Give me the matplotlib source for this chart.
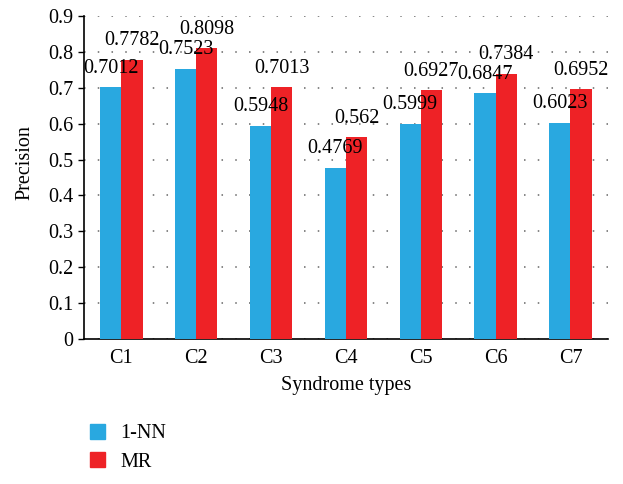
import matplotlib.pyplot as plt
from matplotlib.patches import Patch

plt.rcParams['font.family'] = ['Liberation Serif', 'DejaVu Serif']

# Data
categories = ['C1', 'C2', 'C3', 'C4', 'C5', 'C6', 'C7']
nn_values = [0.7012, 0.7523, 0.5948, 0.4769, 0.5999, 0.6847, 0.6023]
mr_values = [0.7782, 0.8098, 0.7013, 0.562, 0.6927, 0.7384, 0.6952]
nn_labels = ['0.7012', '0.7523', '0.5948', '0.4769', '0.5999', '0.6847', '0.6023']
mr_labels = ['0.7782', '0.8098', '0.7013', '0.562', '0.6927', '0.7384', '0.6952']

BLUE = '#29a8e0'
RED = '#ee2226'
FS = 14.5

fig = plt.figure(figsize=(6.23, 4.84), dpi=100)
ax = fig.add_axes([0.1348, 0.2996, 0.841, 0.6674])

x = list(range(len(categories)))
w = 0.283
b1 = ax.bar([i - w / 2 for i in x], nn_values, w, color=BLUE, label='1-NN', zorder=3)
b2 = ax.bar([i + w / 2 for i in x], mr_values, w, color=RED, label='MR', zorder=3)

for bars, labels in ((b1, nn_labels), (b2, mr_labels)):
    for rect, lab in zip(bars, labels):
        ax.annotate(lab, (rect.get_x() + rect.get_width() / 2, rect.get_height()),
                    xytext=(0, 7), textcoords='offset points',
                    ha='center', va='bottom', fontsize=FS, zorder=4)

ax.set_xlim(-0.5, 6.5)
ax.set_ylim(0, 0.9)
ax.set_yticks([i / 10 for i in range(10)])
ax.set_yticklabels(['0'] + ['%.1f' % (i / 10) for i in range(1, 10)])
ax.set_xticks(x)
ax.set_xticklabels(categories)
ax.tick_params(axis='y', labelsize=FS, length=4, width=1)
ax.tick_params(axis='x', labelsize=FS, length=0, pad=7)

ax.yaxis.grid(True, linestyle=(0, (1, 8)), color='#666666', linewidth=1.1)
ax.set_axisbelow(True)
for s in ('top', 'right'):
    ax.spines[s].set_visible(False)
ax.spines['left'].set_linewidth(1.2)
ax.spines['bottom'].set_linewidth(1.2)

ax.set_xlabel('Syndrome types', fontsize=FS, labelpad=6)
ax.set_ylabel('Precision', fontsize=FS)
ax.yaxis.set_label_coords(-0.095, 0.545)

handles = [Patch(color=BLUE, label='1-NN'), Patch(color=RED, label='MR')]
fig.legend(handles=handles, loc='lower left', bbox_to_anchor=(0.115, -0.012),
           frameon=False, fontsize=FS, handlelength=0.75, handleheight=0.75,
           handletextpad=0.75, labelspacing=0.45)

fig.savefig('out.png', dpi=100)
